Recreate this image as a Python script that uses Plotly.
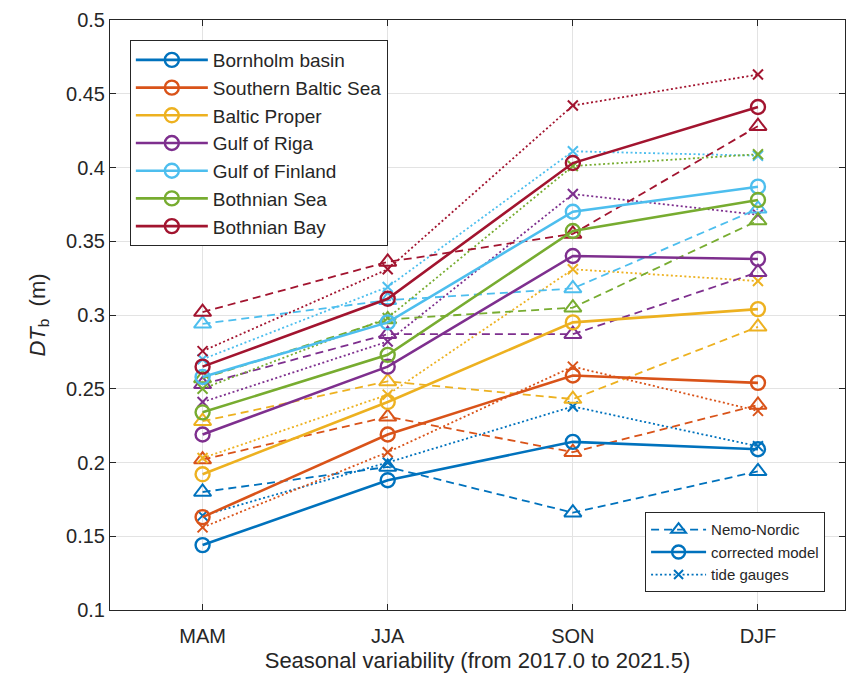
import plotly.graph_objects as go

seasons = ["MAM", "JJA", "SON", "DJF"]
regions = ["Bornholm basin", "Southern Baltic Sea", "Baltic Proper", "Gulf of Riga",
           "Gulf of Finland", "Bothnian Sea", "Bothnian Bay"]
colors = ["#0072BD", "#D95319", "#EDB120", "#7E2F8E", "#4DBEEE", "#77AC30", "#A2142F"]

corrected_bornholm = [0.144, 0.188, 0.214, 0.209]
corrected_southern = [0.163, 0.219, 0.259, 0.254]
corrected_proper = [0.192, 0.241, 0.295, 0.304]
corrected_riga = [0.219, 0.265, 0.340, 0.338]
corrected_finland = [0.258, 0.295, 0.370, 0.387]
corrected_bsea = [0.234, 0.273, 0.357, 0.378]
corrected_bbay = [0.265, 0.311, 0.403, 0.441]

nemo_bornholm = [0.180, 0.197, 0.166, 0.194]
nemo_southern = [0.202, 0.231, 0.207, 0.239]
nemo_proper = [0.228, 0.255, 0.243, 0.292]
nemo_riga = [0.253, 0.287, 0.287, 0.329]
nemo_finland = [0.294, 0.310, 0.318, 0.372]
nemo_bsea = [0.257, 0.297, 0.305, 0.364]
nemo_bbay = [0.302, 0.336, 0.355, 0.428]

tide_bornholm = [0.164, 0.200, 0.238, 0.211]
tide_southern = [0.156, 0.207, 0.265, 0.235]
tide_proper = [0.203, 0.246, 0.331, 0.323]
tide_riga = [0.241, 0.282, 0.382, 0.368]
tide_finland = [0.270, 0.319, 0.411, 0.408]
tide_bsea = [0.250, 0.298, 0.401, 0.409]
tide_bbay = [0.2755, 0.331, 0.442, 0.463]

corrected = [corrected_bornholm, corrected_southern, corrected_proper, corrected_riga,
             corrected_finland, corrected_bsea, corrected_bbay]
nemo = [nemo_bornholm, nemo_southern, nemo_proper, nemo_riga,
        nemo_finland, nemo_bsea, nemo_bbay]
tide = [tide_bornholm, tide_southern, tide_proper, tide_riga,
        tide_finland, tide_bsea, tide_bbay]

y_ticks = [0.1, 0.15, 0.2, 0.25, 0.3, 0.35, 0.4, 0.45, 0.5]
y_ticklabels = ["0.1", "0.15", "0.2", "0.25", "0.3", "0.35", "0.4", "0.45", "0.5"]

style_labels = ["Nemo-Nordic", "corrected model", "tide gauges"]

FONT = "Liberation Sans, Arial, Helvetica, sans-serif"
DASH = "8px,5px"
DOT = "2px,2.5px"

fig = go.Figure()

for i, name in enumerate(regions):
    c = colors[i]
    fig.add_trace(go.Scatter(
        x=seasons, y=nemo[i], mode="lines+markers", showlegend=False,
        line=dict(color=c, width=1.8, dash=DASH),
        marker=dict(symbol="triangle-up-open", size=15, color=c, line=dict(width=2, color=c)),
        hoverinfo="skip"))
    fig.add_trace(go.Scatter(
        x=seasons, y=tide[i], mode="lines+markers", showlegend=False,
        line=dict(color=c, width=1.8, dash=DOT),
        marker=dict(symbol="x-thin-open", size=10, color=c, line=dict(width=2, color=c)),
        hoverinfo="skip"))

for i, name in enumerate(regions):
    c = colors[i]
    fig.add_trace(go.Scatter(
        x=seasons, y=corrected[i], mode="lines+markers", name=name,
        legend="legend",
        line=dict(color=c, width=2.6),
        marker=dict(symbol="circle-open", size=14, color=c, line=dict(width=2.4, color=c))))

# style legend (blue)
c0 = colors[0]
fig.add_trace(go.Scatter(
    x=[None], y=[None], mode="lines+markers", name=style_labels[0], legend="legend2",
    line=dict(color=c0, width=1.8, dash=DASH),
    marker=dict(symbol="triangle-up-open", size=13, color=c0, line=dict(width=2, color=c0))))
fig.add_trace(go.Scatter(
    x=[None], y=[None], mode="lines+markers", name=style_labels[1], legend="legend2",
    line=dict(color=c0, width=2.6),
    marker=dict(symbol="circle-open", size=13, color=c0, line=dict(width=2.4, color=c0))))
fig.add_trace(go.Scatter(
    x=[None], y=[None], mode="lines+markers", name=style_labels[2], legend="legend2",
    line=dict(color=c0, width=1.8, dash=DOT),
    marker=dict(symbol="x-thin-open", size=9, color=c0, line=dict(width=2, color=c0))))

axis_common = dict(
    showline=True, linecolor="#262626", linewidth=1, mirror="ticks",
    ticks="inside", ticklen=6, tickcolor="#262626",
    showgrid=True, gridcolor="#e3e3e3", gridwidth=1,
    zeroline=False, tickfont=dict(family=FONT, size=20, color="#262626"),
)

fig.update_layout(
    width=848, height=684,
    margin=dict(l=110, r=3, t=20, b=74),
    paper_bgcolor="white", plot_bgcolor="white",
    font=dict(family=FONT, color="#262626"),
    xaxis=dict(
        **axis_common,
        type="category", categoryorder="array", categoryarray=seasons,
        range=[-0.5, 3.47], ticklabelstandoff=8,
        title=dict(text="Seasonal variability (from 2017.0 to 2021.5)",
                   font=dict(family=FONT, size=22, color="#262626"), standoff=6),
    ),
    yaxis=dict(
        **axis_common,
        range=[0.1, 0.5], tickvals=y_ticks, ticktext=y_ticklabels,
        title=dict(text="<i>DT</i><sub>b</sub>  (m)",
                   font=dict(family=FONT, size=22, color="#262626"), standoff=14),
    ),
    legend=dict(
        x=0.027, y=0.966, xanchor="left", yanchor="top",
        bgcolor="white", bordercolor="#262626", borderwidth=1,
        font=dict(family=FONT, size=19, color="#262626"),
        itemwidth=72, tracegroupgap=0,
    ),
    legend2=dict(
        x=0.728, y=0.03, xanchor="left", yanchor="bottom",
        bgcolor="white", bordercolor="#262626", borderwidth=1,
        font=dict(family=FONT, size=15, color="#262626"),
        itemwidth=55, tracegroupgap=0,
    ),
)

fig.write_html("out.html")
